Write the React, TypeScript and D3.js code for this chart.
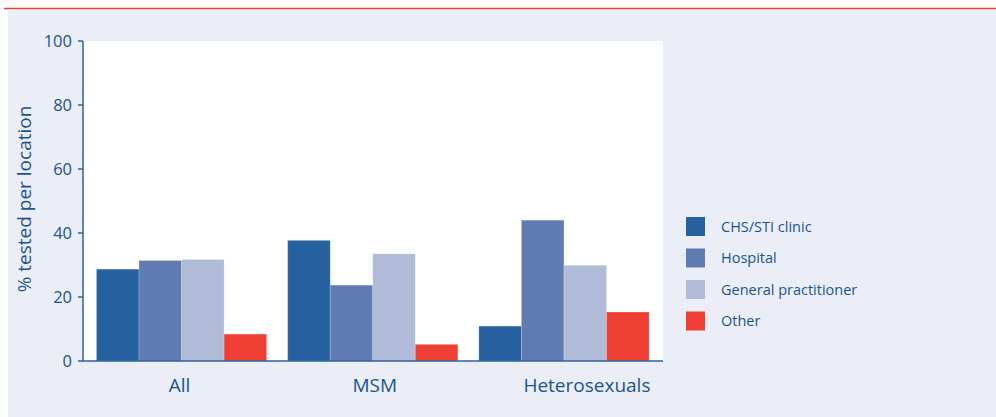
import React from "react";
import * as d3 from "d3";

const categories = ["All", "MSM", "Heterosexuals"];
const seriesNames = ["CHS/STI clinic", "Hospital", "General practitioner", "Other"];
const chsValues = [28.7, 37.7, 10.9];
const hospitalValues = [31.4, 23.7, 44.0];
const gpValues = [31.7, 33.5, 29.9];
const otherValues = [8.4, 5.2, 15.3];
const yTicks = [0, 20, 40, 60, 80, 100];
const colors = ["#27609e", "#5f7bb1", "#b0bbd8", "#ef3e33"];

const W = 996;
const H = 417;
const FONT = "'Open Sans', sans-serif";
const TEXT = "#1a5494";
const AXIS = "#2a62a0";
const labelShift = [-2, 2, 23];

export default function App() {
  const series = [chsValues, hospitalValues, gpValues, otherValues];
  const plot = { left: 83, right: 663, top: 41, bottom: 361 };
  const x0 = d3
    .scaleBand<string>()
    .domain(categories)
    .range([plot.left - 0.5, plot.right])
    .paddingInner(0.11)
    .paddingOuter(0.073);
  const x1 = d3
    .scaleBand<string>()
    .domain(seriesNames)
    .range([0, x0.bandwidth()])
    .padding(0);
  const y = d3.scaleLinear().domain([0, 100]).range([plot.bottom, plot.top]);

  return (
    <div style={{ position: "absolute", left: 0, top: 0 }}>
      <svg width={W} height={H} style={{ display: "block" }}>
        <rect x={0} y={0} width={W} height={H} fill="#ffffff" />
        <rect x={8} y={10} width={W - 8} height={H - 10} fill="#ebeef6" />
        <line x1={4} x2={W} y1={8.5} y2={8.5} stroke="#ef3e33" strokeWidth={1.6} />
        <rect
          x={plot.left}
          y={plot.top}
          width={plot.right - plot.left}
          height={plot.bottom - plot.top}
          fill="#ffffff"
        />
        {categories.map((c, ci) => (
          <g key={c} transform={`translate(${x0(c)},0)`}>
            {series.map((vals, si) => (
              <rect
                key={si}
                x={x1(seriesNames[si])}
                y={y(vals[ci])}
                width={x1.bandwidth()}
                height={y(0) - y(vals[ci])}
                fill={colors[si]}
                stroke="rgba(255,255,255,0.2)"
                strokeWidth={1}
              />
            ))}
          </g>
        ))}
        {/* y axis */}
        <line x1={plot.left} x2={plot.left} y1={plot.top} y2={plot.bottom} stroke={AXIS} strokeWidth={1.5} />
        {yTicks.map((t) => (
          <g key={t}>
            <line x1={plot.left - 5} x2={plot.left} y1={y(t)} y2={y(t)} stroke={AXIS} strokeWidth={1.5} />
            <text
              x={72}
              y={y(t)}
              dy="0.36em"
              textAnchor="end"
              fontFamily={FONT}
              fontSize={16.5}
              fill={TEXT}
            >
              {t}
            </text>
          </g>
        ))}
        {/* x axis */}
        <line x1={plot.left} x2={plot.right} y1={plot.bottom} y2={plot.bottom} stroke={AXIS} strokeWidth={1.5} />
        {categories.map((c, i) => (
          <text
            key={c}
            x={(x0(c) as number) + x0.bandwidth() / 2 + labelShift[i]}
            y={392}
            textAnchor="middle"
            fontFamily={FONT}
            fontSize={19}
            fill={TEXT}
          >
            {c}
          </text>
        ))}
        <text
          transform={`translate(31,199) rotate(-90)`}
          textAnchor="middle"
          fontFamily={FONT}
          fontSize={19}
          fill={TEXT}
        >
          % tested per location
        </text>
        {/* legend */}
        {seriesNames.map((s, i) => (
          <g key={s} transform={`translate(686,${217 + i * 31.5})`}>
            <rect x={0} y={0} width={19} height={19} fill={colors[i]} />
            <text x={35} y={9.5} dy="0.36em" fontFamily={FONT} fontSize={14.5} fill={TEXT}>
              {s}
            </text>
          </g>
        ))}
      </svg>
    </div>
  );
}
